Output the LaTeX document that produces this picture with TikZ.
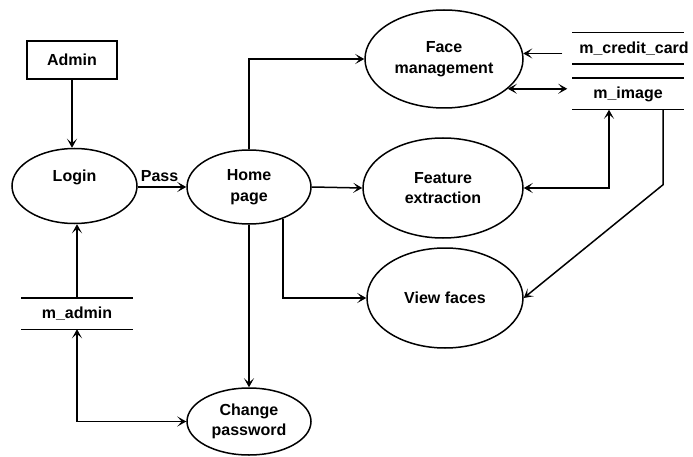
\documentclass[tikz,border=0pt]{standalone}
\usepackage{fontspec}
\setmainfont{Liberation Sans}
\usetikzlibrary{shapes.geometric,arrows.meta}
\begin{document}
\begin{tikzpicture}[x=1pt,y=-1pt,line width=1.5pt,
  font=\fontsize{16}{20.5}\selectfont\bfseries,
  proc/.style={draw,ellipse,inner sep=0pt,align=center},
  ent/.style={draw,rectangle,minimum width=90,minimum height=38,inner sep=0pt},
  store/.style={minimum width=110,minimum height=30,inner sep=0pt},
  tip/.tip={Stealth[length=9pt,width=10pt,inset=4.5pt]},
  flow/.style={-tip},
  bflow/.style={tip-tip}]
\useasboundingbox (0,0) rectangle (693,457);
% entity
\node[ent] (admin) at (72,60) {Admin};
% processes
\node[proc,minimum width=125,minimum height=75] (login) at (74.5,186) {};
\node (logintxt) at (74.5,177) {Login};
\node[proc,minimum width=124,minimum height=74] (home) at (249,187) {Home\\page};
\node[proc,minimum width=158,minimum height=98] (face) at (444,59) {Face\\management};
\node[proc,minimum width=160,minimum height=100] (feat) at (443,188) {Feature\\extraction};
\node[proc,minimum width=156,minimum height=100] (view) at (445,298) {View faces};
\node[proc,minimum width=124,minimum height=67] (chg) at (249,421.5) {Change\\password};
% data stores
\node[store] (madmin) at (77,313.5) {m\_admin};
\draw (madmin.north west) -- (madmin.north east) (madmin.south west) -- (madmin.south east);
\node[store] (cc) at (628,48.5) {};
\node (cctext) at (634,49) {m\_credit\_card};
\draw (cc.north west) -- (cc.north east) (cc.south west) -- (cc.south east);
\node[store] (mi) at (628,94) {m\_image};
\draw (mi.north west) -- (mi.north east) (mi.south west) -- (mi.south east);
% flows
\draw[flow] (admin.south) -- (admin.south |- login.north);
\draw[flow] (login.east |- home.west) -- node[above,pos=0.45,yshift=1pt] (pass) {Pass} (home.west);
\draw[flow] (madmin.north) -- (madmin.north |- login.south);
\draw[bflow] (chg.west) -| (madmin.south);
\draw[flow] (home.north) |- (face.west);
\draw[flow] (home.east) -- (feat.west);
\draw[flow] (home.-43.5) |- (view.west);
\draw[flow] (home.south) -- (chg.north);
\draw[flow] ([xshift=-10pt]cc.west |- face.4) -- (face.4);
\draw[bflow] (face.-25.5) -- ([xshift=-5pt]face.-25.5 -| mi.west);
\draw[bflow] (feat.east) -| ([xshift=-19pt]mi.south);
\draw[flow] ([xshift=35pt]mi.south) -- ++(0,75) -- (view.east);
\end{tikzpicture}
\end{document}
